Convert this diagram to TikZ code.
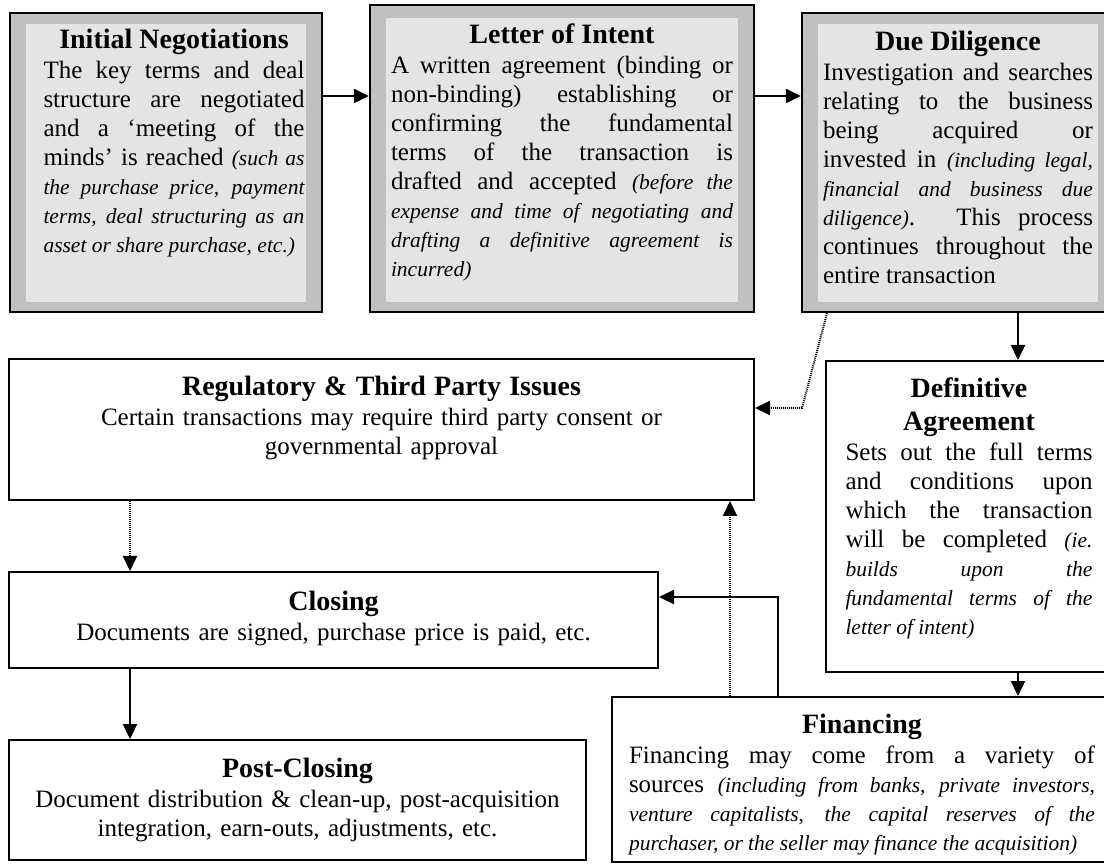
\documentclass[tikz,border=0pt]{standalone}
\usepackage{fontspec}
\setmainfont{Liberation Serif}
\usetikzlibrary{positioning,fit,arrows.meta}
\definecolor{framegray}{HTML}{C0C0C0}
\definecolor{panelgray}{HTML}{E4E4E4}
\setlength{\parindent}{0pt}
\tolerance=10000
\hbadness=10000
\newcommand{\bodyfont}{\fontsize{25}{29}\selectfont}
\newcommand{\heading}[1]{{\centering\fontsize{28}{33}\selectfont\bfseries #1\par}\vspace{1pt}}
\newcommand{\aside}[1]{{\fontsize{21.5}{29}\selectfont\itshape #1}}

\begin{document}
\begin{tikzpicture}[x=1pt,y=-1pt]
    \tikzstyle{frame} = [draw,line width=2.4pt,fill=framegray,inner sep=0pt]
    \tikzstyle{panel} = [fill=panelgray,inner sep=0pt]
    \tikzstyle{box} = [draw,line width=2pt,fill=white,inner sep=0pt]
    \tikzstyle{txt} = [inner sep=0pt,font=\bodyfont,align=justify]
    \tikzstyle{flow} = [line width=2.4pt,-{Triangle[length=15pt,width=14pt]}]
    \tikzstyle{dflow} = [flow,line width=2pt,dash pattern=on 1pt off 1pt]
    \useasboundingbox (0,0) rectangle (1104,866);

    % top row: shaded stages
    \node[frame,fit={(10,13) (322,312)}] (neg) {};
    \node[panel,fit={(26,24) (306,302)}] {};
    \node[frame,fit={(370,5) (754,312)}] (loi) {};
    \node[panel,fit={(386,18) (738,302)}] {};
    \node[frame,fit={(802,13) (1114,312)}] (dd) {};
    \node[panel,fit={(818,24) (1098,302)}] {};

    % lower stages
    \node[box,fit={(9,359) (754,500)}] (reg) {};
    \node[box,fit={(826,361) (1112,672)}] (defag) {};
    \node[box,fit={(9,572) (658,668)}] (clo) {};
    \node[box,fit={(612,697) (1112,862)}] (fin) {};
    \node[box,fit={(9,740) (586,860)}] (post) {};

    \node[txt,text width=261pt,xshift=8pt] (negtxt) [below=17pt of neg.north]
        {\heading{Initial Negotiations}The key terms and deal\linebreak
         structure are negotiated\linebreak
         and a `meeting of the\linebreak
         minds' is reached \aside{(such as\linebreak
         the purchase price, payment\linebreak
         terms, deal structuring as an\linebreak
         asset or share purchase, etc.)}};
    \node[txt,text width=342pt] (loitxt) [below=20pt of loi.north]
        {\heading{Letter of Intent}A written agreement (binding or\linebreak
         non-binding) establishing or\linebreak
         confirming the fundamental\linebreak
         terms of the transaction is\linebreak
         drafted and accepted \aside{(before the\linebreak
         expense and time of negotiating and\linebreak
         drafting a definitive agreement is\linebreak
         incurred)}};
    \node[txt,text width=270pt] (ddtxt) [below=19pt of dd.north]
        {\heading{Due Diligence}Investigation and searches\linebreak
         relating to the business\linebreak
         being acquired or\linebreak
         invested in \aside{(including legal,\linebreak
         financial and business due\linebreak
         diligence)}. This process\linebreak
         continues throughout the\linebreak
         entire transaction};
    \node[txt,text width=247pt] (deftxt) [below=18pt of defag.north]
        {\heading{Definitive\\Agreement}Sets out the full terms\linebreak
         and conditions upon\linebreak
         which the transaction\linebreak
         will be completed \aside{(ie.\linebreak
         builds upon the\linebreak
         fundamental terms of the\linebreak
         letter of intent)}};
    \node[txt,text width=700pt,align=center] (regtxt) [below=18pt of reg.north]
        {\heading{Regulatory \& Third Party Issues}Certain transactions may require third party consent or\\
         governmental approval};
    \node[txt,text width=600pt,align=center] (clotxt) [below=20pt of clo.north]
        {\heading{Closing}Documents are signed, purchase price is paid, etc.};
    \node[txt,text width=560pt,align=center] (posttxt) [below=19pt of post.north]
        {\heading{Post-Closing}Document distribution \& clean-up, post-acquisition\\
         integration, earn-outs, adjustments, etc.};
    \node[txt,text width=466pt] (fintxt) [below=18pt of fin.north]
        {\heading{Financing}Financing may come from a variety of\linebreak
         sources \aside{(including from banks, private investors,\linebreak
         venture capitalists, the capital reserves of the\linebreak
         purchaser, or the seller may finance the acquisition)}};

    % connectors
    \coordinate (toprow) at (0,96);
    \coordinate (rcol) at (1018,0);
    \coordinate (lcol) at (130,0);
    \coordinate (ddleg) at (827,0);
    \coordinate (ddbend) at (802,408);
    \coordinate (finbend) at (778,597);
    \coordinate (fincol) at (730,0);
    \draw[flow] (neg.east |- toprow) -- (loi.west |- toprow);
    \draw[flow] (loi.east |- toprow) -- (dd.west |- toprow);
    \draw[flow] (dd.south -| rcol) -- (defag.north -| rcol);
    \draw[flow] (defag.south -| rcol) -- (fin.north -| rcol);
    \draw[dflow] (dd.south -| ddleg) -- (ddbend) -- (ddbend -| reg.east);
    \draw[dflow] (reg.south -| lcol) -- (clo.north -| lcol);
    \draw[flow] (clo.south -| lcol) -- (post.north -| lcol);
    \draw[flow] (fin.north -| finbend) -- (finbend) -- (finbend -| clo.east);
    \draw[dflow] (fin.north -| fincol) -- (reg.south -| fincol);
\end{tikzpicture}
\end{document}
